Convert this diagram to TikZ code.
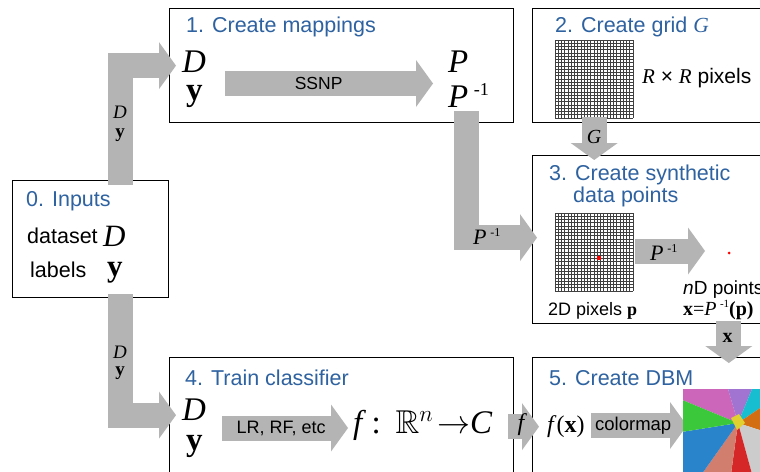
\RequirePackage{fix-cm}
\documentclass[tikz,border=0pt]{standalone}
\usepackage{amssymb}
\usepackage{fontspec}
\setmainfont{Liberation Sans}
\newfontfamily\tms{Liberation Serif}
\usetikzlibrary{arrows.meta}
\definecolor{stepblue}{HTML}{2E62A0}
\definecolor{pipegray}{HTML}{B4B4B4}
\definecolor{dbmpink}{HTML}{CC66BB}
\definecolor{dbmpurple}{HTML}{A074D0}
\definecolor{dbmcyan}{HTML}{17BECF}
\definecolor{dbmorange}{HTML}{D46E12}
\definecolor{dbmgray}{HTML}{CCCCCC}
\definecolor{dbmred}{HTML}{D62728}
\definecolor{dbmsalmon}{HTML}{D27E6E}
\definecolor{dbmblue}{HTML}{2A84CC}
\definecolor{dbmgreen}{HTML}{3BC83B}
\definecolor{dbmyellow}{HTML}{E0D030}
\newcommand{\fsz}[1]{\fontsize{#1}{#1}\selectfont}
\newcommand{\Pinv}{\textit{P}\,\raisebox{.36em}{\scalebox{.55}{-1}}}

\begin{document}
\begin{tikzpicture}[x=1pt, y=-1pt,
    box/.style={draw, line width=1.3pt, anchor=north west, inner sep=0},
    ttl/.style={anchor=base west, inner sep=0, text=stepblue, font=\fsz{21.5}},
    txt/.style={anchor=base west, inner sep=0},
    lbl/.style={inner sep=0},
    fat/.style={draw=pipegray, line width=25pt,
                -{Triangle[length=17pt, width=47pt, line width=0pt]}}]
    \path[use as bounding box, fill=white] (0,0) rectangle (760,471);
    \clip (0,0) rectangle (760,471);

    \node[box, minimum width=156pt, minimum height=117pt] (inp) at (12,180) {};
    \node[box, minimum width=344pt, minimum height=114pt] (map) at (169,8) {};
    \node[box, minimum width=232pt, minimum height=114pt] (grid) at (532,8) {};
    \node[box, minimum width=232pt, minimum height=168pt] (synth) at (532,155) {};
    \node[box, minimum width=344pt, minimum height=130pt] (train) at (169,357) {};
    \node[box, minimum width=232pt, minimum height=130pt] (dbm) at (532,357) {};

    % 0. inputs
    \node[ttl] (t0) at (26,206) {0. Inputs};
    \node[txt, font=\fsz{21.5}] (dset) at (27,243) {dataset};
    \node[txt, font=\fsz{31}\tms\itshape] (dsD) at (103,246) {D};
    \node[txt, font=\fsz{21.5}] (labl) at (30,277) {labels};
    \node[txt, font=\fsz{31}\tms\bfseries] (laby) at (107,276) {y};

    % 1. mappings
    \node[ttl] (t1) at (186,32) {1. Create mappings};
    \node[txt, font=\fsz{33}\tms\itshape] (mD) at (182,72) {D};
    \node[txt, font=\fsz{33}\tms\bfseries] (my) at (186,100) {y};
    \node[txt, font=\fsz{33}\tms\itshape] (mP) at (448,72) {P};
    \node[txt, font=\fsz{33}\tms] (mPi) at (448,107) {\Pinv};
    \coordinate (ssnpa) at (225,83.5);
    \coordinate (ssnpb) at (433,83.5);
    \draw[fat] (ssnpa) -- node[lbl, pos=.45, font=\fsz{17.5}] {SSNP} (ssnpb);

    % 2. grid
    \node[ttl] (t2) at (555,32) {2. Create grid {\tms\itshape G}};
    \node[inner sep=0, minimum size=78pt, anchor=north west] (gimg) at (555,40) {};
    \node[inner sep=0, minimum size=78pt, anchor=north west] (pimg) at (555,213) {};
    \foreach \gy in {40,213}
      \draw[black!75, line width=.65pt] \foreach \i in {0,...,24}
        {(555+\i*3.25,\gy) -- (555+\i*3.25,\gy+78) (555,\gy+\i*3.25) -- (633,\gy+\i*3.25)};
    \node[txt, font=\fsz{21}] (rr) at (642,83)
      {{\tms\itshape R} × {\tms\itshape R} pixels};

    % 3. synthetic points
    \node[ttl] (t3a) at (549,180) {3. Create synthetic};
    \node[ttl] (t3b) at (573,202) {data points};
    \fill[red] (597,256) rectangle (601,260);
    \coordinate (pia) at (635,251);
    \coordinate (pib) at (705,251);
    \draw[fat] (pia) -- (pib);
    \node[txt, font=\fsz{22}\tms] (pil) at (650,260) {\Pinv};
    \fill[red] (729,253) circle (1.5);
    \node[txt, font=\fsz{18}] (pix) at (548,315) {2D pixels {\tms\bfseries p}};
    \node[txt, font=\fsz{19}] (ndp) at (683,294) {\textit{n}D points};
    \node[txt, font=\fsz{20}\tms] (xeq) at (683,315) {\textbf{x}=\Pinv\textbf{(p)}};

    % 4. classifier
    \node[ttl] (t4) at (185,385) {4. Train classifier};
    \node[txt, font=\fsz{33}\tms\itshape] (tD) at (182,420) {D};
    \node[txt, font=\fsz{33}\tms\bfseries] (ty) at (186,450) {y};
    \coordinate (lra) at (222,428);
    \coordinate (lrb) at (348,428);
    \draw[fat] (lra) -- node[lbl, pos=.47, font=\fsz{18}] {LR, RF, etc} (lrb);
    \node[txt, font=\fsz{33}\tms] (fmap) at (353,433)
      {\textit{f}\,:\;\,$\mathbb{R}^{n}\!\rightarrow$\textit{C}};

    % 5. dbm
    \node[ttl] (t5) at (549,385) {5. Create DBM};
    \node[txt, font=\fsz{24}\tms] (fx) at (547,432) {\textit{f}(\textbf{x})};
    \coordinate (cma) at (591,425.5);
    \coordinate (cmb) at (687,425.5);
    \draw[fat] (cma) -- node[lbl, pos=.44, font=\fsz{18.5}] {colormap} (cmb);
    \begin{scope}
      \clip (683,389) rectangle (770,480);
      \coordinate (dc) at (738,423);
      \fill[dbmpink] (dc) -- (675,397) -- (675,380) -- (725.4,380) -- cycle;
      \fill[dbmpurple] (dc) -- (725.4,380) -- (755.7,380) -- cycle;
      \fill[dbmcyan] (dc) -- (755.7,380) -- (775,380) -- (775,398) -- cycle;
      \fill[dbmorange] (dc) -- (775,398) -- (775,435) -- cycle;
      \fill[dbmgray] (dc) -- (775,435) -- (775,485) -- (755,485) -- cycle;
      \fill[dbmred] (dc) -- (755,485) -- (729.5,485) -- cycle;
      \fill[dbmsalmon] (dc) -- (729.5,485) -- (694,485) -- cycle;
      \fill[dbmblue] (dc) -- (694,485) -- (675,485) -- (675,433) -- cycle;
      \fill[dbmgreen] (dc) -- (675,433) -- (675,397) -- cycle;
      \fill[dbmyellow] (731,418) -- (739,414) -- (745,423) -- (737,430) -- cycle;
    \end{scope}

    % pipes between the steps
    \draw[fat] ([xshift=29.5pt,yshift=-5pt]inp.north) |- ([xshift=7pt]map.west);
    \draw[fat] ([xshift=29.5pt,yshift=4pt]inp.south) |- ([xshift=7pt,yshift=7.5pt]train.west);
    \draw[fat] ([xshift=18.5pt,yshift=-4pt]mPi.south west) |- ([xshift=5pt,yshift=2pt]synth.west);
    \draw[fat] ([yshift=1pt]gimg.south) -- ([yshift=-5pt]gimg.south |- synth.north);
    \draw[fat] ([xshift=-36.5pt,yshift=3pt]synth.south east) -- ([xshift=-36.5pt,yshift=-6pt]dbm.north east);
    \draw[fat] ([xshift=-6pt,yshift=-4pt]train.east) -- ([xshift=7pt,yshift=-4pt]dbm.west);

    \node[txt, anchor=base, font=\fsz{19}\tms\itshape] (upD) at (120,118) {D};
    \node[txt, anchor=base, font=\fsz{19}\tms\bfseries] (upy) at (120,137) {y};
    \node[txt, anchor=base, font=\fsz{19}\tms\itshape] (loD) at (120,358) {D};
    \node[txt, anchor=base, font=\fsz{19}\tms\bfseries] (loy) at (120,375) {y};
    \node[txt, font=\fsz{22}\tms] (pdl) at (473,244) {\Pinv};
    \node[txt, anchor=base, font=\fsz{20}\tms\itshape] (gl) at (594,143) {G};
    \node[txt, anchor=base, font=\fsz{20}\tms\bfseries] (xl) at (727.5,342) {x};
    \node[txt, anchor=base, font=\fsz{24}\tms\itshape] (fl) at (521,430) {f};
\end{tikzpicture}
\end{document}
